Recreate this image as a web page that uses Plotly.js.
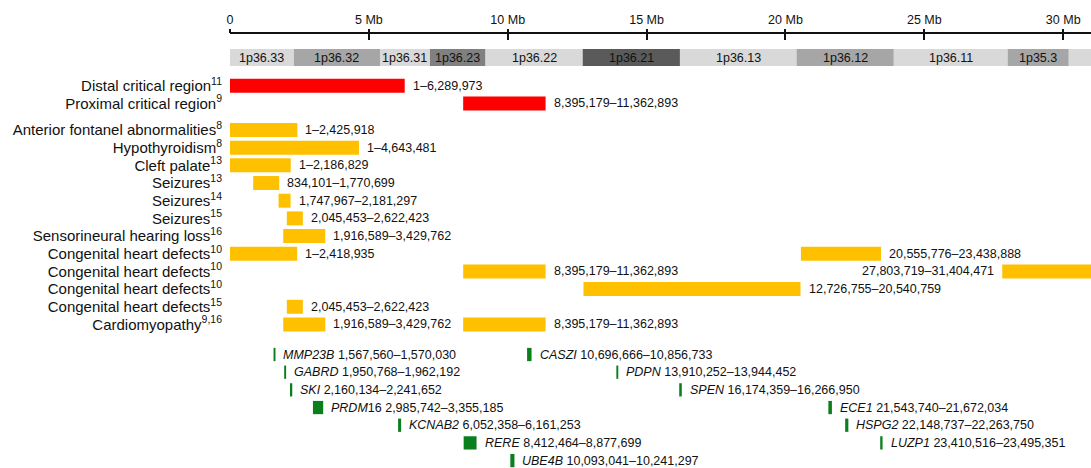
<!DOCTYPE html>
<html>
<head>
<meta charset="utf-8">
<script src="https://cdn.plot.ly/plotly-3.0.1.min.js"></script>
<style>html,body{margin:0;padding:0;background:#fff;}#chart{width:1091px;height:468px;}</style>
</head>
<body>
<div id="chart"></div>
<script>
// ---------- DATA ----------
const tickValues = [0, 5e6, 10e6, 15e6, 20e6, 25e6, 30e6];
const tickLabels = ['0', '5 Mb', '10 Mb', '15 Mb', '20 Mb', '25 Mb', '30 Mb'];

const bandNames  = ['1p36.33','1p36.32','1p36.31','1p36.23','1p36.22','1p36.21','1p36.13','1p36.12','1p36.11','1p35.3','1p35.2'];
const bandStarts = [0, 2.3e6, 5.4e6, 7.2e6, 9.2e6, 12.7e6, 16.2e6, 20.4e6, 23.9e6, 28.0e6, 30.2e6];
const bandEnds   = [2.3e6, 5.4e6, 7.2e6, 9.2e6, 12.7e6, 16.2e6, 20.4e6, 23.9e6, 28.0e6, 30.2e6, 32.4e6];
const bandStain  = ['gneg','gpos25','gneg','gpos50','gneg','gpos75','gneg','gpos25','gneg','gpos25','gneg'];

const rowLabels = ['Distal critical region','Proximal critical region','Anterior fontanel abnormalities','Hypothyroidism',
  'Cleft palate','Seizures','Seizures','Seizures','Sensorineural hearing loss','Congenital heart defects',
  'Congenital heart defects','Congenital heart defects','Congenital heart defects','Cardiomyopathy'];
const rowRefs = ['11','9','8','8','13','13','14','15','16','10','10','10','15','9,16'];

const regionRow   = [0, 1, 2, 3, 4, 5, 6, 7, 8, 9, 9, 10, 10, 11, 12, 13, 13];
const regionStart = [1, 8395179, 1, 1, 1, 834101, 1747967, 2045453, 1916589, 1, 20555776, 8395179, 27803719, 12726755, 2045453, 1916589, 8395179];
const regionEnd   = [6289973, 11362893, 2425918, 4643481, 2186829, 1770699, 2181297, 2622423, 3429762, 2418935, 23438888, 11362893, 31404471, 20540759, 2622423, 3429762, 11362893];
const regionKind  = ['critical','critical','pheno','pheno','pheno','pheno','pheno','pheno','pheno','pheno','pheno','pheno','pheno','pheno','pheno','pheno','pheno'];

const geneItalic = ['MMP23B','GABRD','SKI','PRDM','KCNAB2','RERE','UBE4B','CASZI','PDPN','SPEN','ECE1','HSPG2','LUZP1'];
const geneSuffix = ['','','','16','','','','','','','','',''];
const geneStart  = [1567560, 1950768, 2160134, 2985742, 6052358, 8412464, 10093041, 10696666, 13910252, 16174359, 21543740, 22148737, 23410516];
const geneEnd    = [1570030, 1962192, 2241652, 3355185, 6161253, 8877699, 10241297, 10856733, 13944452, 16266950, 21672034, 22263750, 23495351];
const geneRow    = [0, 1, 2, 3, 4, 5, 6, 0, 1, 2, 3, 4, 5];

// ---------- STYLE / LAYOUT HELPERS ----------
const X_MAX = 31.0e6;
const FONT = 'Liberation Sans, Arial, Helvetica, sans-serif';
const stainColor = {gneg:'#d9d9d9', gpos25:'#a6a6a6', gpos50:'#808080', gpos75:'#5a5a5a'};
const kindColor = {critical:'#ff0000', pheno:'#ffc000'};
const GENE_COLOR = '#0b7f1c';
const BAND_POS = -1.6;
const rowPos = r => r + (r >= 2 ? 0.5 : 0);
const genePos = g => 15.2 + g;
const MIN_GENE_W = 70000;
const fmt = n => n.toLocaleString('en-US');

const traces = [];

// chromosome bands
traces.push({
  type:'bar', orientation:'h', xaxis:'x2', yaxis:'y',
  y: bandNames.map(() => BAND_POS),
  base: bandStarts,
  x: bandStarts.map((s,i) => bandEnds[i] - s),
  width: 0.96,
  marker:{color: bandStain.map(s => stainColor[s]), line:{width:0}},
  hoverinfo:'skip'
});

// region bars
traces.push({
  type:'bar', orientation:'h',
  y: regionRow.map(rowPos),
  base: regionStart,
  x: regionStart.map((s,i) => regionEnd[i] - s),
  width: 0.79,
  marker:{color: regionKind.map(k => kindColor[k]), line:{width:0}},
  hoverinfo:'skip'
});

// gene bars
traces.push({
  type:'bar', orientation:'h',
  y: geneRow.map(genePos),
  base: geneStart,
  x: geneStart.map((s,i) => Math.max(geneEnd[i] - s, MIN_GENE_W)),
  width: 0.75,
  marker:{color: GENE_COLOR, line:{width:0}},
  hoverinfo:'skip'
});

const annotations = [];
// band labels
bandNames.forEach((n,i) => {
  if (bandEnds[i] <= X_MAX) {
    annotations.push({x:(bandStarts[i]+bandEnds[i])/2, y:BAND_POS, xref:'x', yref:'y', text:n,
      showarrow:false, xanchor:'center', yanchor:'middle', font:{family:FONT, size:12.5, color:'#111'}});
  }
});
// region value labels
regionStart.forEach((s,i) => {
  const e = regionEnd[i];
  const txt = fmt(s) + '\u2013' + fmt(e);
  const outside = e > X_MAX;
  annotations.push({x: outside ? s : e, y: rowPos(regionRow[i]), xref:'x', yref:'y', text: txt,
    showarrow:false, xanchor: outside ? 'right' : 'left', xshift: outside ? -6 : 6, yanchor:'middle',
    font:{family:FONT, size:12.5, color:'#111'}});
});
// gene labels
geneStart.forEach((s,i) => {
  const e = Math.max(geneEnd[i], s + MIN_GENE_W);
  annotations.push({x: e, y: genePos(geneRow[i]), xref:'x', yref:'y',
    text: '<i>' + geneItalic[i] + '</i>' + geneSuffix[i] + ' ' + fmt(geneStart[i]) + '\u2013' + fmt(geneEnd[i]),
    showarrow:false, xanchor:'left', xshift:6, yanchor:'middle',
    font:{family:FONT, size:12.5, color:'#111'}});
});

const layout = {
  width:1091, height:468,
  margin:{l:230, r:0, t:34, b:0, pad:0},
  paper_bgcolor:'#fff', plot_bgcolor:'#fff',
  showlegend:false, barmode:'overlay',
  font:{family:FONT, color:'#111'},
  xaxis:{range:[0, X_MAX], side:'top', showgrid:false, zeroline:false,
    showline:true, linecolor:'#111', linewidth:2,
    tickmode:'array', tickvals:tickValues, ticks:'inside', ticklen:6, tickwidth:2, tickcolor:'#111',
    showticklabels:false, fixedrange:true},
  xaxis2:{overlaying:'x', matches:'x', range:[0, X_MAX], side:'top', showgrid:false, zeroline:false,
    showline:false, tickmode:'array', tickvals:tickValues, ticktext:tickLabels,
    ticks:'outside', ticklen:4, tickwidth:2, tickcolor:'#111',
    tickfont:{family:FONT, size:12.5, color:'#111'}},
  yaxis:{range:[21.62, -2.93], showgrid:false, zeroline:false, showline:false,
    tickmode:'array', tickvals: rowLabels.map((_,r) => rowPos(r)),
    ticktext: rowLabels.map((l,r) => l + '<sup>' + rowRefs[r] + '</sup>'),
    ticks:'outside', ticklen:4, tickcolor:'rgba(0,0,0,0)',
    tickfont:{family:FONT, size:15, color:'#111'}},
  annotations: annotations
};

Plotly.newPlot('chart', traces, layout, {staticPlot:true, displayModeBar:false});
</script>
</body>
</html>
